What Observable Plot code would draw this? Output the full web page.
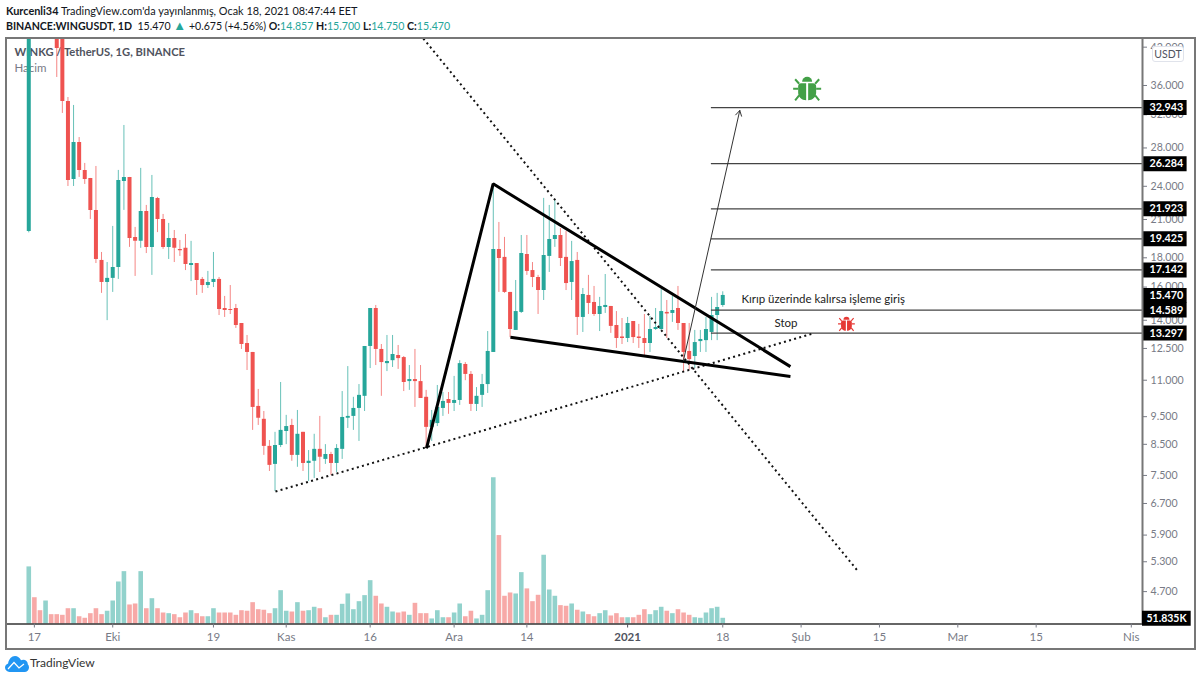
<!DOCTYPE html>
<html lang="tr">
<head>
<meta charset="utf-8">
<title>WINGUSDT</title>
<script src="https://cdn.jsdelivr.net/npm/d3@7"></script>
<script src="https://cdn.jsdelivr.net/npm/@observablehq/plot@0.6"></script>
<style>
  html, body { margin:0; padding:0; background:#fff; }
  body { width:1200px; height:680px; overflow:hidden; position:relative; font-family:Lato,"Noto Sans",sans-serif; }
  .hd { position:absolute; left:6px; white-space:pre; font-size:10.9px; color:#131722; line-height:14px; }
  .hd b { font-weight:700; }
  .hd i { font-style:normal; color:#26a69a; }
  .hd i.up { font-size:13px; line-height:10px; }
  #frame { position:absolute; left:5px; top:37px; width:1187px; height:609px; border:2px solid #777; pointer-events:none; }
  #charts { position:absolute; left:0; top:38px; width:1200px; height:610px; }
  #charts svg { position:absolute; left:0; top:0; }
  #usdt { position:absolute; left:1152px; top:46px; width:30px; height:14px; line-height:14px; text-align:center; font-size:10.5px; color:#50535e; background:#fff; border:1px solid #e0e3eb; border-radius:3px; }
  #logo { position:absolute; left:5px; top:656px; }
  #logotext { position:absolute; left:30px; top:655px; font-size:12px; line-height:16px; color:#333; }
</style>
</head>
<body>
<div class="hd" style="top:4px"><b>Kurcenli34</b> TradingView.com'da yayınlanmış, Ocak 18, 2021 08:47:44 EET</div>
<div class="hd" style="top:19px;font-size:10.6px"><b>BINANCE:WINGUSDT, 1D</b>  15.470 <i class="up">▲</i> +0.675 (+4.56%) <b>O:</b><i>14.857</i> <b>H:</b><i>15.700</i> <b>L:</b><i>14.750</i> <b>C:</b><i>15.470</i></div>
<div id="charts"></div>
<div id="frame"></div>
<div id="usdt">USDT</div>
<svg id="logo" width="24" height="16" viewBox="0 0 24 16">
  <path fill="#2196f3" d="M4.5 16C2 16 0 14 0 11.6 0 9.6 1.3 8 3.1 7.4 3.8 3.2 6.6 0 10 0c2.6 0 4.8 1.7 6 4.3.7-.4 1.4-.6 2.2-.6 2.6 0 4.6 2.100 4.700 4.700C23.600 9.100 24 10.300 24 11.500 24 14 22 16 19.500 16z"/>
  <path fill="none" stroke="#fff" stroke-width="1.2" d="M3 13 9 6.500 14 12 19 8"/>
</svg>
<div id="logotext">TradingView</div>
<script>
// Daily candles, first bar 16 Sep 2020
const firstDay = Date.UTC(2020, 8, 16);
const day = t => new Date(firstDay + t * 864e5);

const open = [
  20.0,60,54,48,53,46.5,44.5,33.76,24.67,28.62,
  25.58,24.77,21.78,17.81,16.3,16.57,17.31,24.47,24.87,19.54,
  19.23,21.69,18.77,22.86,21.0,18.77,19.46,18.62,18.7,17.45,
  17.59,16.5,16.1,16.3,16.5,14.68,14.62,14.68,13.82,12.75,
  12.3,9.9,9.4,8.43,7.84,8.46,8.95,9.17,8.13,8.92,
  7.87,7.94,8.33,8.0,8.16,7.87,8.33,9.44,9.51,9.82,
  10.31,12.6,14.68,12.45,11.76,11.9,12.15,12.05,10.94,11.03,
  10.94,10.27,9.1,9.24,9.82,10.18,10.02,10.14,11.72,11.26,
  9.98,10.35,10.81,12.3,18.62,18.03,15.66,13.44,14.45,18.24,
  17.1,16.63,15.78,18.1,19.38,19.69,18.03,16.3,17.81,14.16,
  15.47,15.04,14.33,14.74,14.8,13.71,13.09,13.01,13.93,13.09,
  13.01,12.75,13.49,13.49,14.45,14.39,14.68,13.82,12.35,12.1,
  12.85,12.9,13.33,14.27,14.857
];
const close = [
  60,54,48,53,46.5,41.78,33.76,24.57,28.62,25.58,
  24.67,21.78,17.88,16.3,16.57,17.31,24.57,24.87,19.46,19.23,
  21.69,18.77,22.95,21.0,18.77,19.46,18.7,18.51,17.52,17.59,
  16.43,16.1,16.3,16.5,14.62,14.56,14.56,13.71,12.7,12.3,
  9.86,9.44,8.43,7.81,8.46,8.99,9.13,8.13,8.85,7.87,
  7.94,8.33,8.07,8.16,7.87,8.36,9.47,9.51,9.82,10.35,
  12.6,14.68,12.45,11.81,11.86,12.2,12.0,10.9,11.03,10.94,
  10.22,9.1,9.36,9.86,10.1,10.02,10.14,11.76,11.26,9.98,
  10.31,10.81,12.35,18.62,17.95,15.66,13.49,14.5,18.31,17.04,
  16.63,15.78,18.17,19.38,19.69,17.95,16.23,17.73,14.16,15.53,
  14.98,14.33,14.8,14.86,13.66,13.01,13.01,13.82,13.06,13.01,
  12.75,13.49,13.6,14.5,14.36,14.56,13.82,12.3,11.95,12.8,
  12.96,13.49,14.27,14.74,15.47
];
const high = [
  64,66,58,56,55,48,45,34.3,33.22,29.2,
  26.31,24.77,25.99,18.39,17.66,20.42,25.58,30.65,24.87,20.34,
  25.79,22.22,25.07,22.95,21.43,20.67,20.09,19.3,19.77,19.23,
  17.59,16.63,17.04,18.39,16.63,15.41,16.1,14.92,13.82,13.17,
  12.3,10.6,9.7,8.63,8.92,10.9,9.55,9.4,9.74,8.92,
  8.29,8.85,9.51,8.49,8.23,8.49,10.51,11.62,10.27,10.81,
  12.6,14.68,14.86,12.7,13.17,13.17,12.65,12.1,11.67,12.45,
  11.67,10.56,9.74,10.77,10.47,10.47,11.17,11.9,11.81,11.39,
  10.68,11.26,13.38,24.27,20.75,19.54,15.66,16.43,19.69,19.69,
  17.66,16.77,22.86,22.22,22.68,20.25,20.01,19.23,18.39,15.91,
  16.77,16.04,15.35,16.83,14.8,14.5,14.1,14.16,13.93,13.77,
  14.33,14.22,14.68,15.85,15.16,15.41,16.04,13.82,13.82,13.44,
  13.44,14.16,15.35,15.6,15.7
];
const low = [
  19.9,50,47,46,45,37.18,32.17,23.98,23.98,24.87,
  24.18,21.0,17.59,15.6,13.98,15.66,16.5,21.78,18.77,16.7,
  18.7,18.31,16.77,19.92,18.62,17.88,17.66,18.1,17.1,16.36,
  15.47,15.6,15.91,15.97,14.27,14.16,14.33,13.55,12.45,11.44,
  8.99,9.17,8.13,7.62,7.03,8.39,8.49,7.94,7.75,7.62,
  7.32,7.41,7.59,7.84,7.5,7.59,8.0,9.06,8.99,8.6,
  9.7,11.53,11.67,10.31,11.39,11.58,11.49,10.51,10.56,9.86,
  10.22,8.36,8.6,9.13,9.51,9.59,9.7,9.94,10.98,9.7,
  9.7,9.86,10.43,12.3,15.66,15.6,13.06,13.44,14.39,16.77,
  15.97,14.33,15.16,16.97,18.77,17.38,15.78,15.16,13.17,13.33,
  14.33,14.22,13.38,14.39,13.28,12.5,12.7,12.8,12.75,12.5,
  12.1,12.3,13.44,13.44,13.01,13.88,13.44,11.39,11.44,11.53,
  12.3,12.3,12.9,12.9,14.75
];
// Volume in thousands
const volume = [
  519,239,121,209,85,85,79,139,139,66,
  52,94,139,85,116,209,382,476,173,182,
  476,139,230,139,100,94,85,57,100,121,
  94,66,66,139,100,100,100,79,121,116,
  194,130,125,94,139,303,116,109,194,116,
  121,152,139,57,79,79,179,273,130,203,
  258,394,252,182,152,109,100,109,79,188,
  94,94,46,121,57,57,100,182,66,116,
  46,79,303,1329,804,252,282,273,467,319,
  203,261,625,309,252,167,161,182,125,109,
  85,66,94,121,73,94,57,57,57,79,
  130,85,121,152,116,94,130,100,79,57,
  52,100,139,152,51.835
];

const priceTicks = [42,36,32,28,24,21,18,16,14,12.5,11,9.5,8.5,7.5,6.7,5.9,5.3,4.7];
const priceLevels = [32.943,26.284,21.923,19.425,17.142,14.589,13.297];
const lastPrice = 15.47;
const timeTicks = [1,15,33,46,61,76,89,124,138,152,166,180,197];
const timeLabels = ["17","Eki","19","Kas","16","Ara","14","18","Şub","15","Mar","15","Nis"];
const yearTick = 107, yearLabel = "2021";

// Drawing tools, as [day number, price]
const wedgeUpper = [[71.06,8.36],[82.97,24.24],[136.09,11.62]];
const wedgeLower = [[86.06,13.08],[136.09,11.17]];
const dottedRise = [[44.08,7.03],[139.97,13.26]];
const dottedFall = [[70.5,43.49],[148.06,5.116]];
const targetArrow = {x1:116.97,y1:11.9,x2:127.04,y2:32.56};
const levelStart = 121.97;
const notes = [{t:127.33,p:15.22,s:"Kırıp üzerinde kalırsa işleme giriş"},{t:133.23,p:13.82,s:"Stop"}];
const bugs = [{t:139.08,p:35.67,c:"#43a047",r:30},{t:146.1,p:13.83,c:"#e53935",r:18}];

const xDomain = [day(-3.98), day(199.0)];
const labelEnd = day(206.97);
const priceDomain = [4.126, 43.49];
const teal = "#26a69a", red = "#ef5350";
const fontFamily = 'Lato,"Noto Sans",sans-serif';

const bars = open.map((o,i)=>({x:day(i),o,c:close[i],h:high[i],l:low[i],v:volume[i],dir:close[i]>=o?"up":"down"}));
const pt = a => a.map(([t,p])=>({x:day(t),y:p}));

const bugSrc = c => "data:image/svg+xml," + encodeURIComponent(
 `<svg xmlns="http://www.w3.org/2000/svg" viewBox="0 0 30 30"><g fill="${c}" stroke="${c}">
  <path stroke="none" d="M10 9a5 5 0 0 1 10 0z"/>
  <path stroke="none" d="M14 10.500H9c-2 0-3 1.500-3 3V20c0 4 3.500 7.500 8 7.500zM16 10.500h5c2 0 3 1.500 3 3V20c0 4-3.500 7.500-8 7.500z"/>
  <path fill="none" stroke-width="2" d="M7 11 3 6.500M1 16h5M7 22.500 3 27.500M23 11l4-4.500M29 16h-5M23 22.500l4 5"/></g></svg>`);

const price = Plot.plot({
  width:1200, height:610, marginLeft:6, marginRight:58, marginTop:0, marginBottom:24.5,
  style:{background:"#fff", fontFamily, overflow:"visible"},
  x:{type:"utc", domain:xDomain, axis:null},
  y:{type:"log", domain:priceDomain, axis:null},
  color:{domain:["up","down"], range:[teal,red]},
  marks:[
    Plot.text(["WINKG / TetherUS, 1G, BINANCE"],{frameAnchor:"top-left",dx:8,dy:10,textAnchor:"start",fontSize:11.2,fontWeight:700,fill:"#50535e"}),
    Plot.text(["Hacim"],{frameAnchor:"top-left",dx:8,dy:25,textAnchor:"start",fontSize:11.5,fill:"#787b86"}),
    Plot.axisY({anchor:"right",ticks:priceTicks,tickFormat:d=>d.toFixed(3),tickSize:4,tickPadding:4,fontSize:10.6,color:"#787b86",label:null}),
    Plot.ruleX(bars,{x:"x",y1:"l",y2:"h",stroke:"dir",strokeWidth:1,strokeOpacity:.7,clip:true}),
    Plot.ruleX(bars,{x:"x",y1:"o",y2:"c",stroke:"dir",strokeWidth:4,clip:true}),
    Plot.ruleY(priceLevels,{x1:day(levelStart),x2:xDomain[1],stroke:"#444",strokeWidth:1.2}),
    Plot.line(pt(dottedRise),{x:"x",y:"y",stroke:"#111",strokeWidth:2,strokeDasharray:"2,3.3",strokeLinecap:"butt"}),
    Plot.line(pt(dottedFall),{x:"x",y:"y",stroke:"#111",strokeWidth:2,strokeDasharray:"2,3.3",strokeLinecap:"butt",clip:true}),
    Plot.line(pt(wedgeUpper),{x:"x",y:"y",stroke:"#000",strokeWidth:3,strokeLinejoin:"miter",strokeLinecap:"butt"}),
    Plot.line(pt(wedgeLower),{x:"x",y:"y",stroke:"#000",strokeWidth:3,strokeLinecap:"butt"}),
    Plot.arrow([targetArrow],{x1:d=>day(d.x1),y1:"y1",x2:d=>day(d.x2),y2:"y2",stroke:"#333",strokeWidth:1,headLength:9,bend:0}),
    Plot.text(notes,{x:d=>day(d.t),y:"p",text:"s",textAnchor:"start",fontSize:11.5,fill:"#222"}),
    Plot.image(bugs,{x:d=>day(d.t),y:"p",src:d=>bugSrc(d.c),width:"r",height:"r"}),
    Plot.ruleY(priceLevels.concat(lastPrice),{x1:xDomain[1],x2:labelEnd,stroke:"#000",strokeWidth:15}),
    Plot.text(priceLevels.concat(lastPrice),{x:xDomain[1],y:d=>d,dx:7,text:d=>d.toFixed(3),textAnchor:"start",fill:"#fff",fontSize:10.8,fontWeight:700}),
    Plot.ruleX([xDomain[1]],{stroke:"#777",strokeWidth:2})
  ]
});

const vol = Plot.plot({
  width:1200, height:610, marginLeft:6, marginRight:58, marginTop:0, marginBottom:24.5,
  style:{background:"transparent", fontFamily, overflow:"visible"},
  x:{type:"utc", domain:xDomain, axis:null},
  y:{domain:[0,1329], range:[585.5,439.3], axis:null},
  color:{domain:["up","down"], range:[teal,red]},
  marks:[
    Plot.ruleX(bars,{x:"x",y1:0,y2:"v",stroke:"dir",strokeWidth:4.6,strokeOpacity:.5}),
    Plot.ruleY([0],{stroke:"#333",strokeWidth:1.5}),
    Plot.axisX({ticks:timeTicks.map(day),tickFormat:d=>timeLabels[timeTicks.indexOf((d-firstDay)/864e5)],tickSize:4,tickPadding:5,fontSize:11.5,color:"#787b86",label:null}),
    Plot.axisX({ticks:[day(yearTick)],tickFormat:()=>yearLabel,tickSize:4,tickPadding:5,fontSize:11.5,fontWeight:700,color:"#50535e",label:null}),
    Plot.ruleY([volume[volume.length-1]],{x1:xDomain[1],x2:day(207.7),stroke:"#000",strokeWidth:15}),
    Plot.text(["51.835K"],{x:xDomain[1],y:volume[volume.length-1],dx:4,textAnchor:"start",fill:"#fff",fontSize:10.5,fontWeight:700})
  ]
});
document.getElementById("charts").append(price, vol);
</script>
</body>
</html>
